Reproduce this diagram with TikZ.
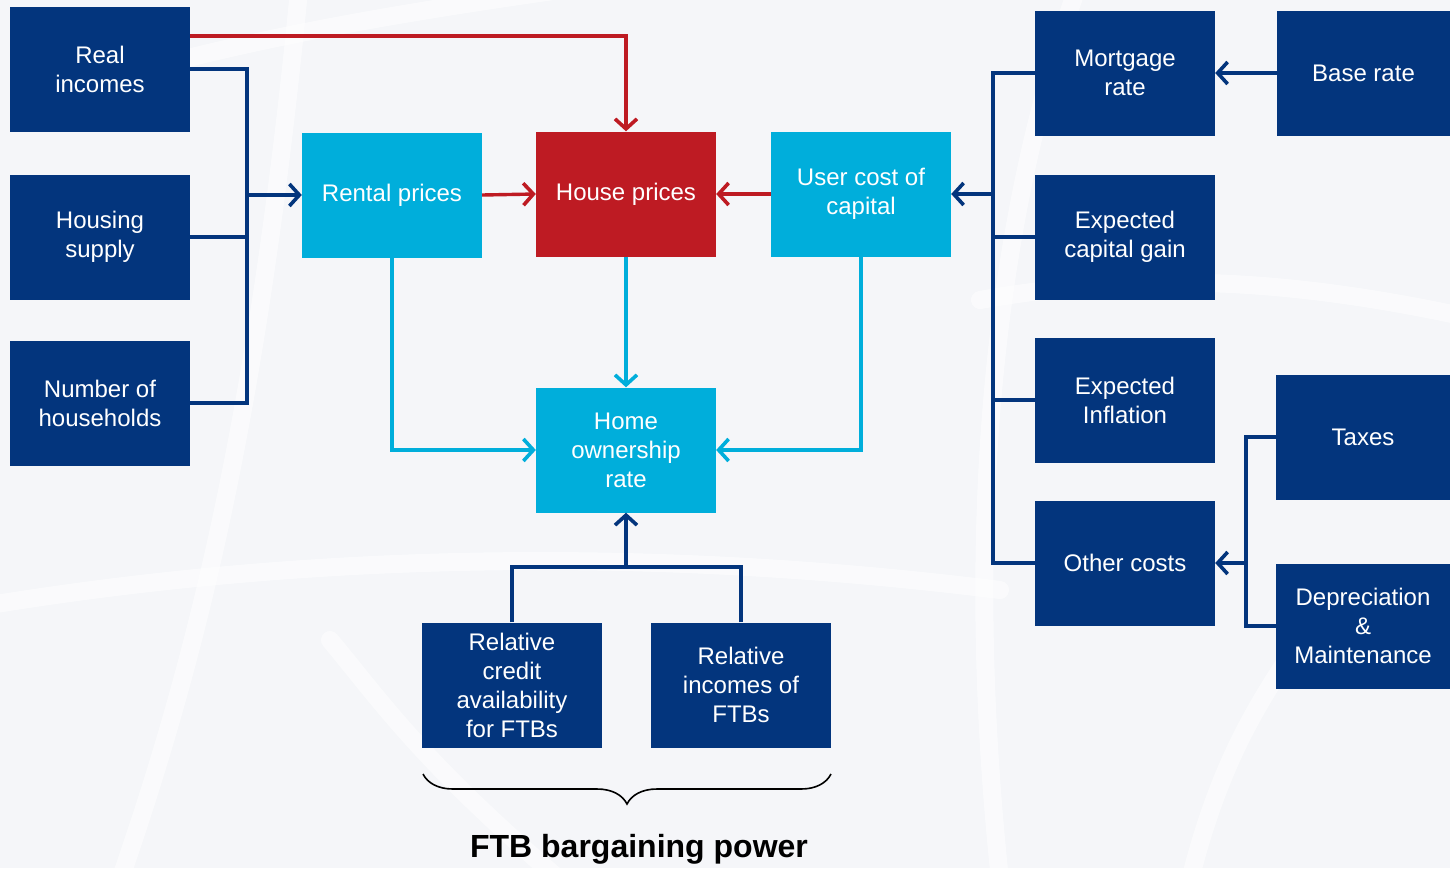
\documentclass[tikz,border=0pt]{standalone}
\usepackage{fontspec}
\setmainfont{Liberation Sans}
\usetikzlibrary{arrows.meta,decorations.pathreplacing}
\definecolor{navy}{RGB}{3,53,125}
\definecolor{sky}{RGB}{0,174,219}
\definecolor{crimson}{RGB}{190,27,35}
\definecolor{paper}{RGB}{245,246,249}
\tikzset{
  box/.style={rectangle, inner sep=0pt, minimum width=180pt, minimum height=125pt,
    align=center, text=white, font=\fontsize{24}{29}\selectfont},
  navybox/.style={box, fill=navy},
  skybox/.style={box, fill=sky},
  redbox/.style={box, fill=crimson},
  link/.style={line width=3.4pt},
  tip/.style={link, -{Straight Barb[length=10pt,width=22pt,line width=3.6pt]}},
  glow/.style={white, line width=18pt, opacity=0.55, line cap=round},
}
\begin{document}
\begin{tikzpicture}[x=1pt,y=-1pt]
% canvas
\fill[paper] (0,0) rectangle (1450,868);
\useasboundingbox (0,0) rectangle (1450,868);
% faint globe lines in the backdrop
\begin{scope}
\clip (0,0) rectangle (1450,868);
\draw[glow] (-40,610) .. controls (250,560) and (600,540) .. (1000,590);
\draw[glow] (180,60) .. controls (300,30) and (420,10) .. (560,-10);
\draw[glow] (980,300) .. controls (1150,270) and (1300,280) .. (1480,320);
\draw[glow] (1190,880) .. controls (1220,760) and (1260,700) .. (1300,640);
\draw[glow] (120,880) .. controls (200,650) and (260,400) .. (300,-20);
\draw[glow] (560,880) .. controls (420,760) and (380,700) .. (330,640);
\draw[glow] (1080,-20) .. controls (1000,200) and (960,500) .. (1000,880);
\end{scope}
% boxes
\node[navybox] (ri) at (100,69) {Real\\incomes};
\node[navybox] (hs) at (100,237) {Housing\\supply};
\node[navybox] (nh) at (100,403) {Number of\\households};
\node[skybox] (rp) at (392,195) {Rental prices};
\node[redbox] (hp) at (626,194) {House prices};
\node[skybox] (uc) at (861,194) {User cost of\\capital};
\node[skybox] (ho) at (626,450) {Home\\ownership\\rate};
\node[navybox] (mr) at (1125,73) {Mortgage\\rate};
\node[navybox, minimum width=173pt] (br) at (1363.5,73) {Base rate};
\node[navybox] (ecg) at (1125,237) {Expected\\capital gain};
\node[navybox] (ei) at (1125,400) {Expected\\Inflation};
\node[navybox] (oc) at (1125,563) {Other costs};
\node[navybox, minimum width=174pt] (tx) at (1363,437) {Taxes};
\node[navybox, minimum width=174pt] (dm) at (1363,626) {Depreciation\\\&\\Maintenance};
\node[navybox] (rc) at (512,685) {Relative\\credit\\availability\\for FTBs};
\node[navybox] (ric) at (741,685) {Relative\\incomes of\\FTBs};
% junction points
\coordinate (jL) at (247,195);
\coordinate (jR) at (993,194);
\coordinate (jT) at (1246,563);
\coordinate (jB) at (626,567);
% real incomes straight to house prices
\draw[tip, crimson] ([yshift=33pt]ri.east) -| (hp.north);
% left-hand drivers of rents
\draw[link, navy] (ri.east) -| (jL);
\draw[link, navy] (nh.east) -| (jL);
\draw[link, navy] (hs.east) -- (hs.east -| jL);
\draw[tip, navy] (jL) -- (rp.west);
% into house prices
\draw[tip, crimson] (rp.east) -- (hp.west);
\draw[tip, crimson] (uc.west) -- (hp.east);
% user cost components
\draw[link, navy] (mr.west) -| (jR);
\draw[link, navy] (oc.west) -| (jR);
\draw[link, navy] (ecg.west) -- (ecg.west -| jR);
\draw[link, navy] (ei.west) -- (ei.west -| jR);
\draw[tip, navy] (jR) -- (uc.east);
\draw[tip, navy] (br.west) -- (mr.east);
% other costs components
\draw[link, navy] (tx.west) -| (jT);
\draw[link, navy] (dm.west) -| (jT);
\draw[tip, navy] (jT) -- (oc.east);
% home ownership inputs
\draw[tip, sky] (rp.south) |- (ho.west);
\draw[tip, sky] (uc.south) |- (ho.east);
\draw[tip, sky] (hp.south) -- (ho.north);
\draw[link, navy] (rc.north) |- (jB);
\draw[link, navy] (ric.north) |- (jB);
\draw[tip, navy] (jB) -- (ho.south);
% bargaining power brace
\coordinate (b1) at (423,774);
\coordinate (b2) at (831,774);
\draw[line width=1.6pt, decorate, decoration={brace, mirror, amplitude=30pt}] (b1) -- (b2);
\node[font=\bfseries\fontsize{32}{38}\selectfont] (ftb) at (639,849) {FTB bargaining power};
\end{tikzpicture}
\end{document}
